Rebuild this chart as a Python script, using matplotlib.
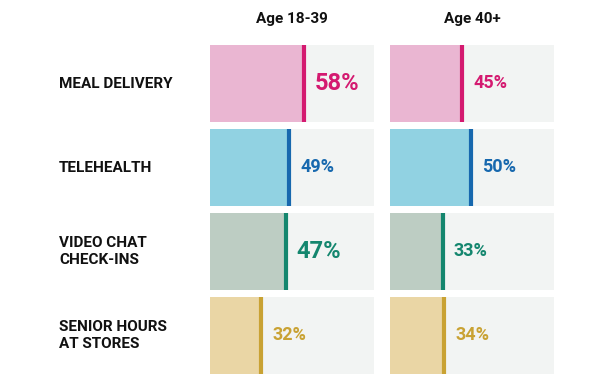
import matplotlib.pyplot as plt

plt.rcParams['font.family'] = ['Roboto', 'DejaVu Sans']

# Share of respondents by service and age group
services = ['MEAL DELIVERY', 'TELEHEALTH', 'VIDEO CHAT\nCHECK-INS', 'SENIOR HOURS\nAT STORES']
groups = ['Age 18-39', 'Age 40+']
young = [58, 49, 47, 32]
older = [45, 50, 33, 34]
# values drawn with the larger label
young_big = [True, False, True, False]
older_big = [False, False, False, False]

fill_colors = ['#eab6d2', '#91d2e2', '#bdcdc3', '#ead6a5']
line_colors = ['#d41a70', '#1768ae', '#14866e', '#c9a233']
bg_color = '#f2f4f3'

W, H = 612, 374
fig = plt.figure(figsize=(W / 100, H / 100), dpi=100)

row_h = 77 / 84
panels = [(210, young, young_big), (390, older, older_big)]

for k, (x0, vals, big) in enumerate(panels):
    ax = fig.add_axes([x0 / W, 0, 164 / W, 329 / H])
    ypos = list(range(len(services)))
    ax.barh(ypos, [100] * len(vals), height=row_h, color=bg_color, zorder=1)
    ax.barh(ypos, vals, height=row_h, color=fill_colors, zorder=2)
    for i, v in enumerate(vals):
        ax.vlines(v - 0.9, i - row_h / 2, i + row_h / 2, color=line_colors[i], lw=3, zorder=3)
        ax.annotate(f'{v}%', (v, i), xytext=(7, 0), textcoords='offset points',
                    ha='left', va='center', color=line_colors[i], fontweight='bold',
                    fontsize=17 if big[i] else 13)
    ax.set_xlim(0, 100)
    ax.set_ylim(len(services) - 1 + row_h / 2, -row_h / 2)
    ax.axis('off')
    fig.text((x0 + 82) / W, 1 - 19 / H, groups[k], ha='center', va='center',
             fontsize=11, fontweight='bold', color='#111111')

for i, s in enumerate(services):
    fig.text(59 / W, 1 - (83.5 + 84 * i) / H, s, ha='left', va='center',
             fontsize=11, fontweight='bold', color='#111111', linespacing=1.25)

fig.savefig('out.png', dpi=100)
